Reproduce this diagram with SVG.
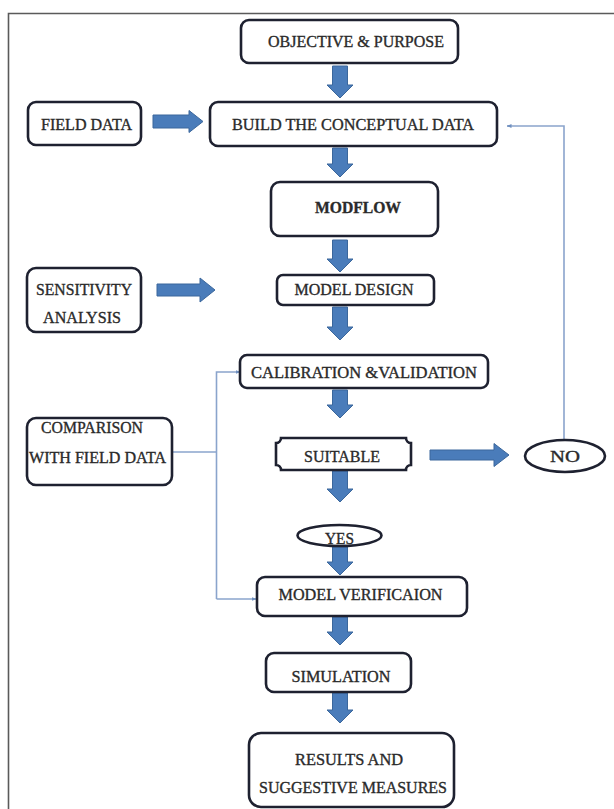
<svg xmlns="http://www.w3.org/2000/svg" width="614" height="809" viewBox="0 0 614 809">
<defs>
<style>
.box{fill:#fff;stroke:#1e2130;stroke-width:2.6}
.t{font-family:"Liberation Serif","Times New Roman",serif;font-size:16px;fill:#2a2a2a;stroke:#2a2a2a;stroke-width:0.35;text-anchor:middle}
.blk{fill:#4a7cba;stroke:#3b679c;stroke-width:1}
.thin{fill:none;stroke:#8aa4cc;stroke-width:1.6}
.frame{stroke:#5a5a5a;stroke-width:1.6;fill:none}
</style>
<marker id="ah" viewBox="0 0 10 10" refX="9" refY="5" markerWidth="5" markerHeight="5" orient="auto-start-reverse" markerUnits="userSpaceOnUse">
<path d="M0,1 L10,5 L0,9 Z" fill="#6f8fbf"/>
</marker>
</defs>
<rect width="614" height="809" fill="#fff"/>
<path class="frame" d="M8.5,809 V13.5 H614"/>

<g id="connectors">
<path class="blk" d="M332.5,66 H347.5 V85 H353 L340,98 L327,85 H332.5 Z"/>
<path class="blk" d="M332.5,148 H347.5 V164 H353 L340,177 L327,164 H332.5 Z"/>
<path class="blk" d="M332.5,240 H347.5 V259 H353 L340,272 L327,259 H332.5 Z"/>
<path class="blk" d="M332.5,307 H347.5 V327 H353 L340,340 L327,327 H332.5 Z"/>
<path class="blk" d="M332.5,390 H347.5 V405 H353 L340,418 L327,405 H332.5 Z"/>
<path class="blk" d="M332.5,471 H347.5 V489 H353 L340,502 L327,489 H332.5 Z"/>
<path class="blk" d="M332.5,547 H347.5 V562 H353 L340,575 L327,562 H332.5 Z"/>
<path class="blk" d="M332.5,617 H347.5 V632 H353 L340,645 L327,632 H332.5 Z"/>
<path class="blk" d="M332.5,693 H347.5 V710 H353 L340,723 L327,710 H332.5 Z"/>
<path class="blk" d="M153,115 H189 V110.5 L203,121.5 L189,132.5 V128 H153 Z"/>
<path class="blk" d="M157,284 H200 V278 L215,290 L200,302 V296 H157 Z"/>
<path class="blk" d="M430,450 H494 V443.5 L509,455 L494,466.5 V460 H430 Z"/>
<path class="thin" marker-end="url(#ah)" d="M564,440 V126 H507"/>
<path class="thin" d="M172,452 H216.5"/>
<path class="thin" marker-end="url(#ah)" d="M216.5,599 V372 H240"/>
<path class="thin" marker-end="url(#ah)" d="M216.5,599 H256"/>
</g>

<g id="objective">
<rect class="box" x="241" y="20" width="217" height="43" rx="8"/>
<text class="t" x="356" y="47" textLength="176" lengthAdjust="spacingAndGlyphs">OBJECTIVE &amp; PURPOSE</text>
</g>
<g id="field-data">
<rect class="box" x="28" y="102" width="113" height="43" rx="8"/>
<text class="t" x="86.5" y="130" textLength="91" lengthAdjust="spacingAndGlyphs">FIELD DATA</text>
</g>
<g id="build">
<rect class="box" x="210" y="102" width="287" height="44" rx="8"/>
<text class="t" x="353" y="130" textLength="242" lengthAdjust="spacingAndGlyphs">BUILD THE CONCEPTUAL DATA</text>
</g>
<g id="modflow">
<rect class="box" x="271" y="182" width="167" height="54" rx="9"/>
<text class="t" x="358" y="213" font-weight="bold" textLength="86" lengthAdjust="spacingAndGlyphs">MODFLOW</text>
</g>
<g id="model-design">
<rect class="box" x="277" y="275" width="157" height="30" rx="6"/>
<text class="t" x="354" y="295" textLength="119" lengthAdjust="spacingAndGlyphs">MODEL DESIGN</text>
</g>
<g id="sensitivity">
<rect class="box" x="27" y="268" width="114" height="64" rx="9"/>
<text class="t" x="84" y="295" textLength="96" lengthAdjust="spacingAndGlyphs">SENSITIVITY</text>
<text class="t" x="82" y="323" textLength="78" lengthAdjust="spacingAndGlyphs">ANALYSIS</text>
</g>
<g id="calibration">
<rect class="box" x="240" y="355" width="248" height="33" rx="7"/>
<text class="t" x="364" y="378" textLength="226" lengthAdjust="spacingAndGlyphs">CALIBRATION &amp;VALIDATION</text>
</g>
<g id="comparison">
<rect class="box" x="27" y="418" width="145" height="67" rx="9"/>
<text class="t" x="92" y="433" textLength="102" lengthAdjust="spacingAndGlyphs">COMPARISON</text>
<text class="t" x="97.5" y="463" textLength="137" lengthAdjust="spacingAndGlyphs">WITH FIELD DATA</text>
</g>
<g id="suitable">
<path class="box" d="M281,438 H406 A5,5 0 0 0 411,443 V465 A5,5 0 0 0 406,470 H281 A5,5 0 0 0 276,465 V443 A5,5 0 0 0 281,438 Z"/>
<text class="t" x="342" y="462" textLength="76" lengthAdjust="spacingAndGlyphs">SUITABLE</text>
</g>
<g id="no">
<ellipse class="box" cx="565" cy="456" rx="40" ry="16"/>
<text class="t" x="565" y="462" textLength="30" lengthAdjust="spacingAndGlyphs">NO</text>
</g>
<g id="yes">
<ellipse class="box" cx="339.5" cy="535.5" rx="42" ry="10.5"/>
<text class="t" x="339.5" y="544" textLength="29" lengthAdjust="spacingAndGlyphs">YES</text>
</g>
<g id="verification">
<rect class="box" x="257" y="577" width="210" height="39" rx="8"/>
<text class="t" x="360.5" y="600" textLength="164" lengthAdjust="spacingAndGlyphs">MODEL VERIFICAION</text>
</g>
<g id="simulation">
<rect class="box" x="266" y="653" width="145" height="39" rx="8"/>
<text class="t" x="341" y="682" textLength="99" lengthAdjust="spacingAndGlyphs">SIMULATION</text>
</g>
<g id="results">
<rect class="box" x="249" y="733" width="205" height="74" rx="12"/>
<text class="t" x="349" y="765" textLength="108" lengthAdjust="spacingAndGlyphs">RESULTS AND</text>
<text class="t" x="353" y="793" textLength="188" lengthAdjust="spacingAndGlyphs">SUGGESTIVE MEASURES</text>
</g>
</svg>
